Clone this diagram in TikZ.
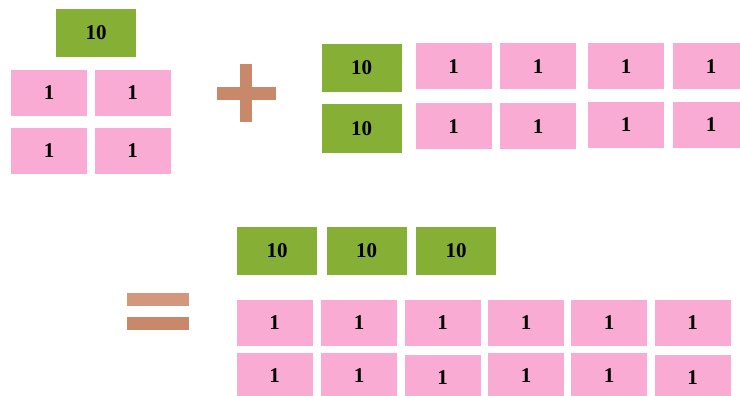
\documentclass[tikz,border=0pt]{standalone}
\usepackage{fontspec}
\setmainfont{Liberation Serif}
\begin{document}
\begin{tikzpicture}[x=1pt,y=-1pt,
  tenbox/.style={fill=tgreen,draw=none,minimum width=80pt,minimum height=48pt,inner sep=0pt,font=\fontsize{21}{23}\selectfont\bfseries},
  onebox/.style={fill=tpink,draw=none,minimum width=76pt,minimum height=46pt,inner sep=0pt,font=\fontsize{21}{23}\selectfont\bfseries},
  signbar/.style={fill=tbrown,draw=none}]
\definecolor{tgreen}{HTML}{86AF36}
\definecolor{tpink}{HTML}{F9ABD4}
\definecolor{tbrown}{HTML}{C8886A}
\definecolor{tbrownlt}{HTML}{D2977C}
\useasboundingbox (0,0) rectangle (740,396);
\clip (0,0) rectangle (740,396);
% top-left group
\node[tenbox] (g0) at (96,33) {10};
\node[onebox] (a1) at (49,93) {1};
\node[onebox] (a2) at (132.5,93) {1};
\node[onebox] (a3) at (49,151) {1};
\node[onebox] (a4) at (132.5,151) {1};
% plus
\fill[signbar] (240,64) rectangle (252,122);
\fill[signbar] (217,87) rectangle (276,100);
% top-right group
\node[tenbox] (g1) at (361.5,68) {10};
\node[tenbox] (g2) at (361.5,128.5) {10};
\node[onebox] (b1) at (453.7,66.5) {1};
\node[onebox] (b2) at (538,66.5) {1};
\node[onebox] (b3) at (626,66.5) {1};
\node[onebox] (b4) at (711,66.5) {1};
\node[onebox] (c1) at (453.7,126.5) {1};
\node[onebox] (c2) at (538,126.5) {1};
\node[onebox] (c3) at (626,125) {1};
\node[onebox] (c4) at (711,125) {1};
% equals
\fill[tbrownlt] (127,293) rectangle (189,306);
\fill[signbar] (127,317) rectangle (189,330);
% result
\node[tenbox] (r1) at (277,251) {10};
\node[tenbox] (r2) at (366.5,251) {10};
\node[tenbox] (r3) at (456,251) {10};
\node[onebox] (d1) at (274.5,323) {1};
\node[onebox] (d2) at (359,323) {1};
\node[onebox] (d3) at (442.5,323) {1};
\node[onebox] (d4) at (526,323) {1};
\node[onebox] (d5) at (609,323) {1};
\node[onebox] (d6) at (692.5,323) {1};
\node[onebox] (e1) at (274.5,376) {1};
\node[onebox] (e2) at (359,376) {1};
\node[onebox] (e3) at (442.5,378) {1};
\node[onebox] (e4) at (526,376) {1};
\node[onebox] (e5) at (609,376) {1};
\node[onebox] (e6) at (692.5,378) {1};
\end{tikzpicture}
\end{document}
